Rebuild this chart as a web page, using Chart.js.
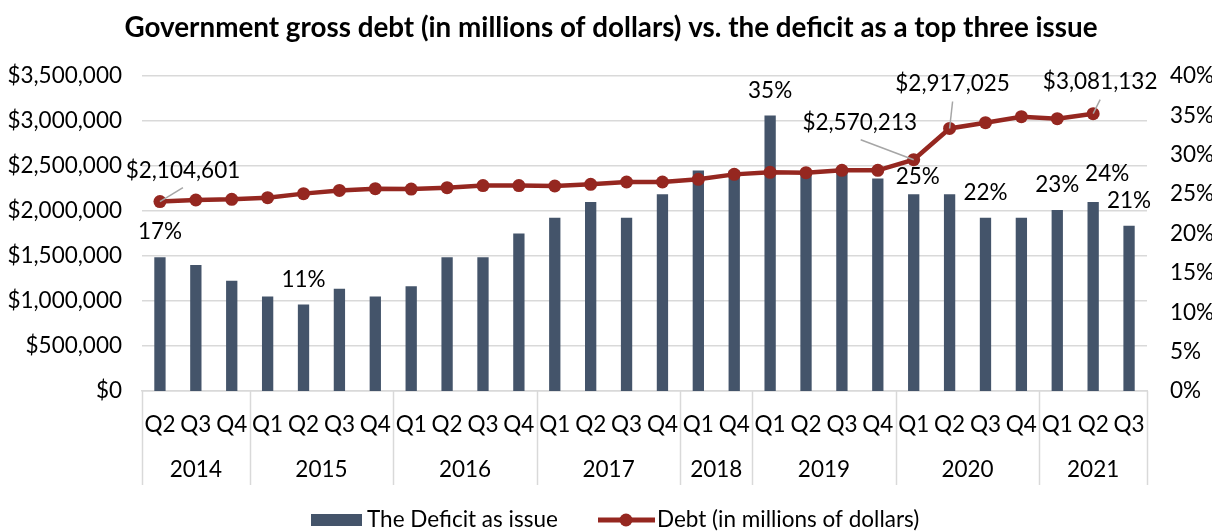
<!DOCTYPE html>
<html>
<head>
<meta charset="utf-8">
<script src="https://cdn.jsdelivr.net/npm/chart.js@4.4.1/dist/chart.umd.min.js"></script>
<style>
  html, body { margin: 0; padding: 0; background: #fff; }
</style>
</head>
<body>
<canvas id="debtChart" width="1212" height="531"></canvas>
<script>
// Quarter labels, grouped by year
const quarters = [
  'Q2', 'Q3', 'Q4',
  'Q1', 'Q2', 'Q3', 'Q4',
  'Q1', 'Q2', 'Q3', 'Q4',
  'Q1', 'Q2', 'Q3', 'Q4',
  'Q1', 'Q4',
  'Q1', 'Q2', 'Q3', 'Q4',
  'Q1', 'Q2', 'Q3', 'Q4',
  'Q1', 'Q2', 'Q3'
];
const years = ['2014', '2015', '2016', '2017', '2018', '2019', '2020', '2021'];
const quartersPerYear = [3, 4, 4, 4, 2, 4, 4, 3];

// Share naming the deficit as a top three issue (%)
const deficitShare = [
  17, 16, 14,
  12, 11, 13, 12,
  13.3, 17, 17, 20,
  22, 24, 22, 25,
  28, 28,
  35, 28, 28, 27,
  25, 25, 22, 22,
  23, 24, 21
];

// Government gross debt, millions of dollars (no figure yet for 2021 Q3)
const grossDebt = [
  2104601, 2122000, 2130000,
  2148000, 2193000, 2229000, 2248000,
  2244000, 2259000, 2282000, 2282000,
  2278000, 2296000, 2322000, 2322000,
  2352000, 2407000,
  2430000, 2426000, 2452000, 2452000,
  2570213, 2917025, 2981000, 3048000,
  3026000, 3081132, null
];

// Which points carry a value label
const labelledBars = [0, 4, 17, 21, 23, 25, 26, 27];
const labelledDebt = [0, 21, 22, 26];

const barColor = '#44546a';
const lineColor = '#952720';
const gridColor = '#d9d9d9';
const FONT = 'Lato, "Open Sans", sans-serif';
const TEXT_SIZE = 22.5;

const money = v => '$' + Math.round(v).toLocaleString('en-US');
const pct = v => Math.round(v) + '%';

// label nudges: [dx, dy] from the default spot
const barLabelNudge = { 21: [4, 8], 26: [14, -3] };
const debtLabelPlacement = {
  0:  { dx: 23,  dy: -31, lx: 23,  ly: -14 },
  21: { dx: -54, dy: -37, lx: -53, ly: -20 },
  22: { dx: 3,   dy: -45, lx: 3,   ly: -27 },
  26: { dx: 7,   dy: -32, lx: 7,   ly: -14 }
};

const extras = {
  id: 'extras',
  afterDraw(chart) {
    const ctx = chart.ctx;
    const x = chart.scales.x;
    const area = chart.chartArea;
    const textFont = TEXT_SIZE + 'px ' + FONT;
    ctx.save();

    // title
    ctx.fillStyle = '#000';
    ctx.font = 'bold 27.8px ' + FONT;
    ctx.textAlign = 'center';
    ctx.textBaseline = 'middle';
    ctx.fillText('Government gross debt (in millions of dollars) vs. the deficit as a top three issue', 611, 28);

    // year dividers and year labels
    ctx.strokeStyle = gridColor;
    ctx.lineWidth = 1.5;
    const dividerBottom = 485;
    let start = 0;
    const edges = [area.left];
    ctx.font = textFont;
    quartersPerYear.forEach((n, i) => {
      const end = start + n - 1;
      const right = end + 1 < quarters.length
        ? (x.getPixelForValue(end) + x.getPixelForValue(end + 1)) / 2
        : area.right;
      edges.push(right);
      const mid = (x.getPixelForValue(start) + x.getPixelForValue(end)) / 2;
      ctx.fillStyle = '#000';
      ctx.fillText(years[i], mid, 470);
      start += n;
    });
    edges.forEach(px => {
      ctx.beginPath();
      ctx.moveTo(Math.round(px) + 0.5, area.bottom);
      ctx.lineTo(Math.round(px) + 0.5, dividerBottom);
      ctx.stroke();
    });

    // bar value labels
    const barMeta = chart.getDatasetMeta(0);
    ctx.fillStyle = '#000';
    labelledBars.forEach(i => {
      const el = barMeta.data[i];
      const n = barLabelNudge[i] || [0, 0];
      ctx.fillText(pct(deficitShare[i]), el.x + n[0], el.y - 25 + n[1]);
    });

    // debt value labels with leader lines
    const lineMeta = chart.getDatasetMeta(1);
    labelledDebt.forEach(i => {
      const el = lineMeta.data[i];
      const p = debtLabelPlacement[i];
      ctx.strokeStyle = '#a6a6a6';
      ctx.lineWidth = 1.5;
      ctx.beginPath();
      ctx.moveTo(el.x, el.y);
      ctx.lineTo(el.x + p.lx, el.y + p.ly);
      ctx.stroke();
      ctx.fillStyle = '#000';
      ctx.fillText(money(grossDebt[i]), el.x + p.dx, el.y + p.dy);
    });

    // legend
    ctx.textAlign = 'left';
    ctx.fillStyle = barColor;
    ctx.fillRect(311, 514, 51, 12);
    ctx.fillStyle = '#000';
    ctx.fillText('The Deficit as issue', 367, 520);
    ctx.strokeStyle = lineColor;
    ctx.lineWidth = 5;
    ctx.beginPath();
    ctx.moveTo(598, 520);
    ctx.lineTo(655, 520);
    ctx.stroke();
    ctx.fillStyle = lineColor;
    ctx.beginPath();
    ctx.arc(626, 520, 6.5, 0, Math.PI * 2);
    ctx.fill();
    ctx.fillStyle = '#000';
    ctx.fillText('Debt (in millions of dollars)', 657, 520);

    ctx.restore();
  }
};

new Chart(document.getElementById('debtChart'), {
  data: {
    labels: quarters,
    datasets: [
      {
        type: 'bar',
        label: 'The Deficit as issue',
        data: deficitShare,
        yAxisID: 'yShare',
        backgroundColor: barColor,
        barPercentage: 0.315,
        categoryPercentage: 1,
        order: 2
      },
      {
        type: 'line',
        label: 'Debt (in millions of dollars)',
        data: grossDebt,
        yAxisID: 'yDebt',
        borderColor: lineColor,
        backgroundColor: lineColor,
        borderWidth: 4.5,
        pointRadius: 6.5,
        pointBackgroundColor: lineColor,
        pointBorderWidth: 0,
        tension: 0,
        order: 1
      }
    ]
  },
  options: {
    responsive: false,
    animation: false,
    layout: { padding: { top: 76, bottom: 40, left: 0, right: 0 } },
    plugins: {
      legend: { display: false },
      title: { display: false },
      tooltip: { enabled: false }
    },
    scales: {
      x: {
        offset: true,
        grid: { display: false, drawTicks: false },
        border: { display: true, color: gridColor, width: 1.5 },
        ticks: {
          autoSkip: false,
          maxRotation: 0,
          padding: 20,
          color: '#000',
          font: { family: FONT, size: TEXT_SIZE }
        },
        afterFit(scale) { scale.height = 100; }
      },
      yDebt: {
        position: 'left',
        min: 0,
        max: 3500000,
        ticks: {
          stepSize: 500000,
          padding: 20,
          color: '#000',
          font: { family: FONT, size: TEXT_SIZE },
          callback: v => money(v)
        },
        grid: { color: gridColor, lineWidth: 1.5, drawTicks: false },
        border: { display: false },
        afterFit(scale) { scale.width = 142; }
      },
      yShare: {
        position: 'right',
        min: 0,
        max: 40,
        ticks: {
          stepSize: 5,
          padding: 23,
          color: '#000',
          font: { family: FONT, size: TEXT_SIZE },
          callback: v => v + '%'
        },
        grid: { display: false, drawTicks: false },
        border: { display: false },
        afterFit(scale) { scale.width = 65; }
      }
    }
  },
  plugins: [extras]
});
</script>
</body>
</html>
